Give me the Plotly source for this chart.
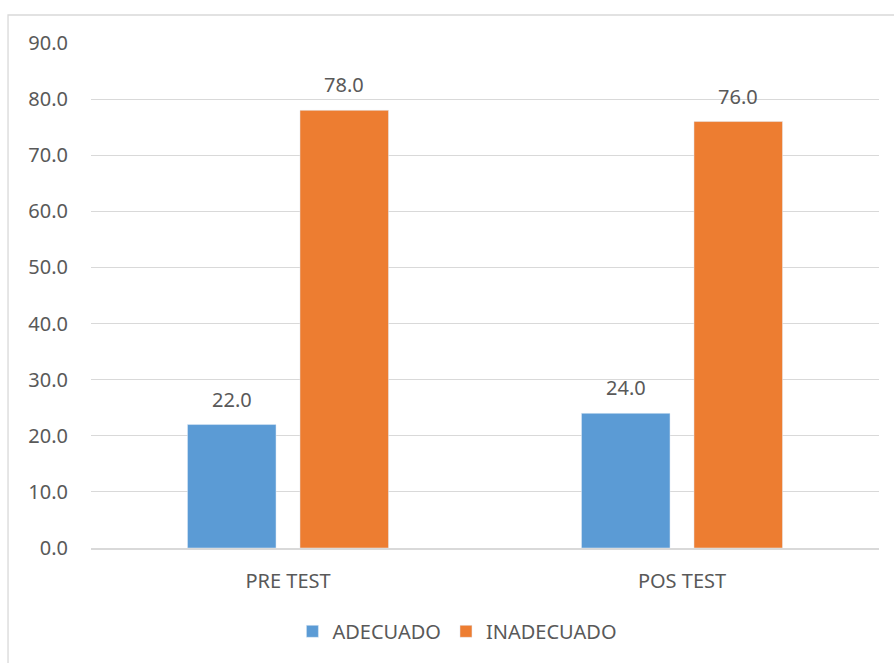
import plotly.graph_objects as go

categories = ["PRE TEST", "POS TEST"]
adecuado = [22.0, 24.0]
inadecuado = [78.0, 76.0]
series_names = ["ADECUADO", "INADECUADO"]
y_ticks = [0, 10, 20, 30, 40, 50, 60, 70, 80, 90]

BLUE = "#5B9BD5"
ORANGE = "#ED7D31"
TXT = "#595959"
GRID = "#D9D9D9"
FONT = "Noto Sans"

fig = go.Figure()
fig.add_trace(go.Bar(x=categories, y=adecuado, name=series_names[0], marker_color=BLUE))
fig.add_trace(go.Bar(x=categories, y=inadecuado, name=series_names[1], marker_color=ORANGE))

# data labels above bars
for vals, xs in ((adecuado, -56), (inadecuado, 56)):
    for c, v in zip(categories, vals):
        fig.add_annotation(x=c, y=v, xref="x", yref="y", text=f"{v:.1f}",
                           showarrow=False, xshift=xs, yshift=10, yanchor="bottom",
                           font=dict(family=FONT, size=20, color=TXT))

# chart border
fig.add_shape(type="rect", xref="paper", yref="paper",
              x0=-0.1053, x1=1.05, y0=-0.25, y1=1.0554,
              line=dict(color=GRID, width=1.3), fillcolor="rgba(0,0,0,0)", layer="below")

fig.update_layout(
    width=894, height=663,
    margin=dict(l=91, r=15, t=43, b=115),
    paper_bgcolor="white", plot_bgcolor="white",
    barmode="group", bargap=0.429, bargroupgap=0.213,
    font=dict(family=FONT, size=20, color=TXT),
    legend=dict(orientation="h", x=0.465, xanchor="center", y=-0.165, yanchor="middle",
                font=dict(family=FONT, size=20, color=TXT), itemwidth=30,
                traceorder="normal"),
    xaxis=dict(showgrid=False, zeroline=False, showline=True, linecolor=GRID, linewidth=1.5,
               ticks="", ticklabelstandoff=14, tickfont=dict(family=FONT, size=20, color=TXT)),
    yaxis=dict(range=[0, 90], tickvals=y_ticks, ticktext=[f"{t:.1f}" for t in y_ticks],
               showgrid=True, gridcolor=GRID, gridwidth=1.3, zeroline=False, showline=False,
               ticks="", ticklabelstandoff=22, tickfont=dict(family=FONT, size=20, color=TXT)),
)

fig.write_html("out.html")
